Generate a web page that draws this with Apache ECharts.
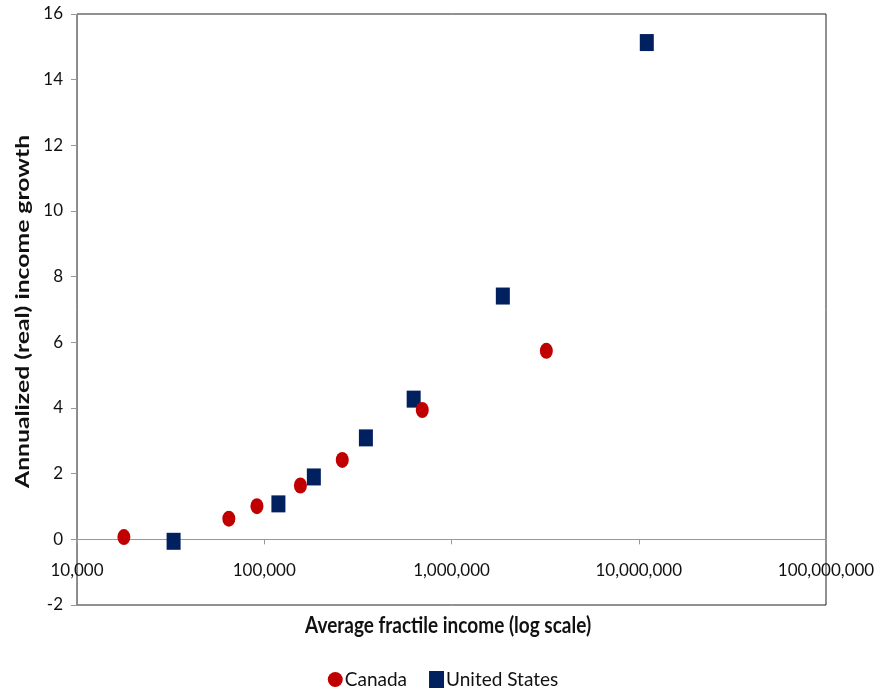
<!DOCTYPE html>
<html>
<head>
<meta charset="utf-8">
<script src="https://cdn.jsdelivr.net/npm/echarts@6/dist/echarts.min.js"></script>
<style>
html,body{margin:0;padding:0;background:#fff;}
#chart{width:886px;height:691px;}
</style>
</head>
<body>
<div id="chart"></div>
<script>
// Average fractile income (log scale) and annualized real income growth (%)
const canadaIncome = [17800, 64700, 91400, 156000, 261000, 698000, 3210000];
const canadaGrowth = [0.07, 0.63, 1.01, 1.64, 2.42, 3.94, 5.74];
const usIncome = [32800, 119000, 184000, 349000, 628000, 1880000, 11040000];
const usGrowth = [-0.06, 1.08, 1.90, 3.09, 4.27, 7.41, 15.13];
const yTicks = [-2, 0, 2, 4, 6, 8, 10, 12, 14, 16];
const seriesNames = ['Canada', 'United States'];

const FONT = 'Lato, "Open Sans", sans-serif';
const zip = (xs, ys) => xs.map((x, i) => [x, ys[i]]);
const fmt = v => Math.round(v).toLocaleString('en-US');

const W = 886, H = 691;
const GRID = { left: 77, right: 60, top: 14, bottom: 86 };
const yMin = yTicks[0], yMax = yTicks[yTicks.length - 1];
// lift the income axis from the bottom edge up to the zero-growth line
const gridH = H - GRID.top - GRID.bottom;
const zeroOffset = -gridH * (0 - yMin) / (yMax - yMin);

const chart = echarts.init(document.getElementById('chart'));
chart.setOption({
  animation: false,
  backgroundColor: '#fff',
  grid: Object.assign({
    show: true, borderColor: '#222', borderWidth: 1, backgroundColor: 'transparent'
  }, GRID),
  xAxis: {
    type: 'log', logBase: 10, min: 10000, max: 100000000,
    position: 'bottom', offset: zeroOffset,
    axisLine: { onZero: false, lineStyle: { color: '#999', width: 1 } },
    axisTick: { show: true, inside: false, length: 5, lineStyle: { color: '#999' } },
    axisLabel: {
      color: '#111', fontFamily: FONT, fontSize: 17, margin: 23,
      formatter: fmt, showMinLabel: true, showMaxLabel: true
    },
    splitLine: { show: false }, minorTick: { show: false }
  },
  yAxis: {
    type: 'value', min: yMin, max: yMax, interval: 2,
    axisLine: { show: true, lineStyle: { color: '#888', width: 1 } },
    axisTick: { show: true, inside: false, length: 6, lineStyle: { color: '#999' } },
    axisLabel: { color: '#111', fontFamily: FONT, fontSize: 17, margin: 14 },
    splitLine: { show: false }
  },
  legend: {
    bottom: -3, left: 'center', itemGap: 22, itemWidth: 15, itemHeight: 17,
    textStyle: { fontFamily: FONT, fontSize: 19, color: '#111', padding: [0, 0, 0, -3] },
    data: [
      { name: seriesNames[0], icon: 'circle' },
      { name: seriesNames[1], icon: 'rect' }
    ]
  },
  graphic: [
    {
      type: 'text', left: 305, top: 614, scaleX: 1.0, scaleY: 1.2,
      style: { text: 'Average fractile income (log scale)', font: 'bold 19px ' + FONT, fill: '#111' }
    },
    {
      type: 'text', rotation: Math.PI / 2, x: 13, y: 488, scaleX: 1.3,
      style: { text: 'Annualized (real) income growth', font: 'bold 19px ' + FONT, fill: '#111' }
    }
  ],
  series: [
    {
      name: seriesNames[0], type: 'scatter', symbol: 'circle', symbolSize: [13, 16],
      itemStyle: { color: '#C00000', opacity: 1 },
      data: zip(canadaIncome, canadaGrowth), z: 3
    },
    {
      name: seriesNames[1], type: 'scatter', symbol: 'rect', symbolSize: [14, 17],
      itemStyle: { color: '#002060', opacity: 1 },
      data: zip(usIncome, usGrowth), z: 2
    }
  ]
});
</script>
</body>
</html>
